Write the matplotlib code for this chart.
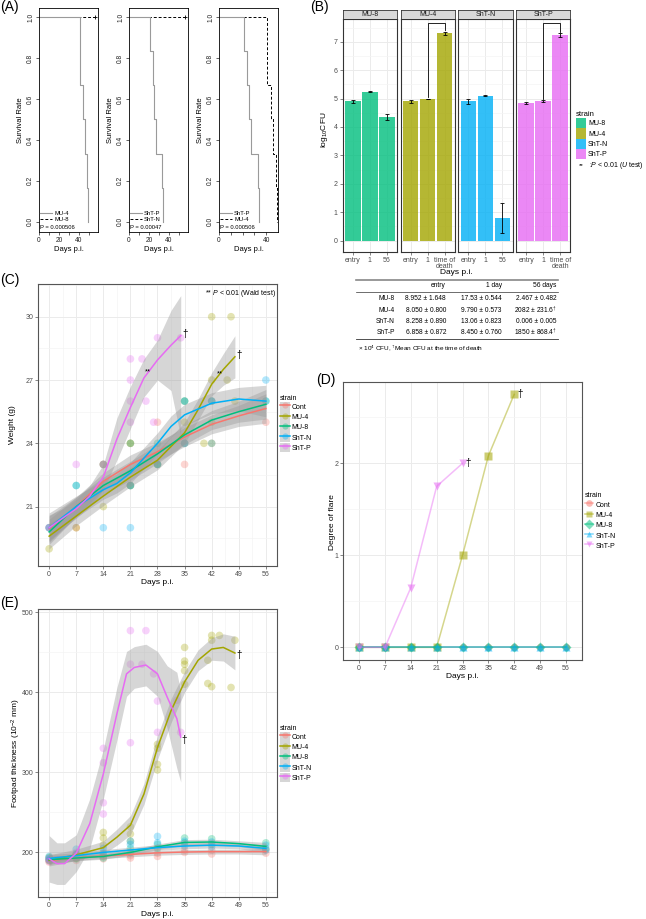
import numpy as np
import matplotlib.pyplot as plt
from matplotlib.lines import Line2D
from matplotlib.patches import Patch

plt.rcParams['font.family'] = ['Liberation Sans', 'DejaVu Sans']
plt.rcParams['mathtext.fontset'] = 'custom'
plt.rcParams['mathtext.rm'] = 'Liberation Sans'
plt.rcParams['mathtext.it'] = 'Liberation Sans:italic'
plt.rcParams['axes.linewidth'] = 0.6

W, H = 646, 919

strains = ['Cont', 'MU-4', 'MU-8', 'ShT-N', 'ShT-P']
colors = ['#F8766D', '#A3A500', '#00BF7D', '#00B0F6', '#E76BF3']

# ---------------- (A) survival curves
a_mu4_t = [0, 41, 44, 46, 48, 49]
a_mu4_s = [1, 0.667, 0.5, 0.333, 0.167, 0]
a_shtp_t = [0, 21, 24, 25, 27, 33, 34]
a_shtp_s = [1, 0.833, 0.667, 0.5, 0.333, 0.167, 0]
a_cens_t = [0, 56]
a_cens_s = [1, 1]
a_pvals = ['0.000506', '0.00047', '0.000506']

# ---------------- (B) CFU bars
b_groups = ['MU-8', 'MU-4', 'ShT-N', 'ShT-P']
b_colors = ['#00BF7D', '#A3A500', '#00B0F6', '#E76BF3']
b_xlab_56 = ['entry', '1', '56']
b_xlab_death = ['entry', '1', 'time of\ndeath']
b_mu8 = [4.90, 5.24, 4.35]
b_mu8_err = [0.05, 0.02, 0.10]
b_mu4 = [4.90, 4.99, 7.30]
b_mu4_err = [0.04, 0.01, 0.06]
b_shtn = [4.90, 5.10, 0.80]
b_shtn_err = [0.08, 0.02, 0.52]
b_shtp = [4.84, 4.92, 7.23]
b_shtp_err = [0.04, 0.04, 0.07]

tbl_head = ['entry', '1 day', '56 days']
tbl_rows = ['MU-8', 'MU-4', 'ShT-N', 'ShT-P']
tbl_entry = ['8.952 ± 1.648', '8.050 ± 0.800', '8.258 ± 0.890', '6.858 ± 0.872']
tbl_day1 = ['17.53 ± 0.544', '9.790 ± 0.573', '13.06 ± 0.823', '8.450 ± 0.760']
tbl_day56 = ['2.467 ± 0.482', '2082 ± 231.6$^{\\dagger}$', '0.006 ± 0.005',
             '1850 ± 868.4$^{\\dagger}$']

# ---------------- (C) weight
c_cont_x = [0, 7, 14, 21, 21, 28, 28, 35, 35, 42, 42, 56]
c_cont_y = [20, 20, 23, 24, 22, 25, 23, 24, 23, 24, 26, 25]
c_mu4_x = [0, 7, 14, 14, 21, 21, 28, 35, 35, 40, 42, 42, 42, 46, 47, 48]
c_mu4_y = [19, 20, 21, 23, 22, 24, 23, 25, 26, 24, 27, 30, 25, 27, 30, 26]
c_mu8_x = [0, 7, 14, 21, 21, 28, 28, 35, 35, 42, 42, 56]
c_mu8_y = [20, 22, 23, 22, 24, 24, 23, 24, 26, 24, 26, 26]
c_shtn_x = [0, 7, 14, 21, 21, 28, 35, 35, 42, 56, 56]
c_shtn_y = [20, 22, 20, 20, 22, 23, 26, 24, 26, 26, 27]
c_shtp_x = [0, 7, 14, 21, 21, 21, 21, 24, 25, 27, 28, 34]
c_shtp_y = [20, 23, 23, 28, 27, 26, 25, 28, 26, 25, 29, 29]

c_fit_x = [0, 7, 14, 21, 28, 35, 42, 49, 56]
c_fit_cont = [19.95, 21.0, 22.2, 23.0, 23.6, 24.3, 24.9, 25.3, 25.65]
c_band_cont = [0.6, 0.45, 0.4, 0.45, 0.45, 0.45, 0.45, 0.5, 0.7]
c_fit_mu8 = [19.8, 21.0, 22.0, 22.7, 23.5, 24.4, 25.1, 25.5, 25.85]
c_band_mu8 = [0.6, 0.45, 0.4, 0.45, 0.45, 0.45, 0.45, 0.5, 0.7]
c_fit_shtn_x = [0, 7, 14, 17.5, 21, 24.5, 28, 31.5, 35, 42, 49, 56]
c_fit_shtn = [20.0, 21.0, 21.8, 22.1, 22.6, 23.3, 24.0, 24.8, 25.35, 25.9, 26.1, 26.0]
c_band_shtn = [0.7, 0.5, 0.45, 0.45, 0.5, 0.5, 0.5, 0.5, 0.5, 0.5, 0.55, 0.75]
c_fit_mu4_x = [0, 7, 14, 21, 28, 35, 38.5, 42, 45, 48]
c_fit_mu4 = [19.6, 20.55, 21.5, 22.4, 23.2, 24.5, 25.6, 26.8, 27.5, 28.1]
c_band_mu4 = [0.6, 0.45, 0.45, 0.45, 0.45, 0.5, 0.5, 0.55, 0.75, 1.0]
c_fit_shtp_x = [0, 3.5, 7, 10.5, 14, 17.5, 21, 24.5, 28, 31.5, 34]
c_fit_shtp = [20.0, 20.45, 20.9, 21.5, 22.4, 24.2, 25.7, 27.1, 27.95, 28.65, 29.1]
c_lo_shtp = [19.4, 19.95, 20.45, 21.0, 21.8, 23.2, 24.7, 26.2, 27.0, 26.5, 24.3]
c_hi_shtp = [20.6, 20.9, 21.35, 22.0, 23.0, 25.2, 26.7, 28.0, 28.9, 30.3, 31.0]

# ---------------- (D) flare
d_days = [0, 7, 14, 21, 28, 35, 42, 49, 56]
d_cont = [0, 0, 0, 0, 0, 0, 0, 0, 0]
d_mu8 = [0, 0, 0, 0, 0, 0, 0, 0, 0]
d_shtn = [0, 0, 0, 0, 0, 0, 0, 0, 0]
d_mu4_days = [0, 7, 14, 21, 28, 35, 42]
d_mu4 = [0, 0, 0, 0, 1.0, 2.08, 2.75]
d_shtp_days = [0, 7, 14, 21, 28]
d_shtp = [0, 0, 0.65, 1.75, 2.0]
d_markers = ['o', 's', 'D', '^', 'v']

# ---------------- (E) footpad
e_cont_x = [0, 0, 7, 7, 14, 14, 21, 21, 28, 28, 35, 35, 42, 42, 56, 56]
e_cont_y = [188, 191, 190, 193, 192, 195, 193, 196, 195, 199, 200, 203, 198, 203, 199, 203]
e_mu8_x = [0, 0, 7, 7, 14, 14, 21, 21, 28, 28, 35, 35, 42, 42, 56, 56]
e_mu8_y = [190, 193, 192, 197, 193, 198, 200, 205, 205, 210, 212, 218, 210, 217, 205, 212]
e_shtn_x = [0, 0, 7, 7, 14, 14, 21, 21, 28, 28, 35, 35, 42, 42, 56, 56]
e_shtn_y = [192, 195, 198, 204, 200, 205, 210, 214, 212, 220, 208, 214, 207, 213, 203, 209]
e_mu4_x = [0, 0, 7, 7, 14, 14, 14, 21, 21, 21, 28, 28, 28, 28, 35, 35, 35, 35, 35,
           41, 41, 42, 42, 42, 44, 47, 48]
e_mu4_y = [190, 194, 193, 197, 209, 218, 225, 214, 223, 232, 303, 310, 330, 335,
           410, 427, 435, 439, 456, 411, 440, 407, 465, 471, 471, 406, 465]
e_shtp_x = [0, 0, 7, 7, 14, 14, 14, 14, 21, 21, 21, 24, 25, 27, 28, 28, 33, 34]
e_shtp_y = [189, 192, 196, 200, 248, 262, 312, 330, 337, 435, 477, 435, 477, 423,
            350, 389, 390, 350]

e_fit_x = [0, 7, 14, 21, 28, 35, 42, 49, 56]
e_fit_cont = [190, 193, 195.5, 197.5, 199.5, 200.5, 201, 201, 201]
e_band_cont = [5, 3, 3, 3, 3, 3, 3, 3, 4]
e_fit_mu8 = [191, 193, 195, 200, 207, 212.5, 213, 211, 207.5]
e_band_mu8 = [5, 3.5, 3.5, 3.5, 3.5, 3.5, 3.5, 3.5, 5]
e_fit_shtn = [192.5, 196, 200, 203, 206, 208, 209, 208, 205]
e_band_shtn = [5, 3.5, 3.5, 3.5, 3.5, 3.5, 3.5, 3.5, 5]
e_fit_mu4_x = [0, 7, 14, 17.5, 21, 24.5, 28, 31.5, 35, 38.5, 42, 45, 48]
e_fit_mu4 = [190, 197, 206, 219, 234, 273, 331, 377, 413, 440, 454, 456, 449]
e_lo_mu4 = [183, 190, 198, 209, 222, 260, 316, 362, 400, 427, 440, 439, 428]
e_hi_mu4 = [197, 204, 214, 229, 246, 286, 346, 392, 426, 453, 468, 473, 470]
e_fit_shtp_x = [0, 2, 4, 7, 10.5, 14, 17.5, 20, 22, 25, 28, 30.5, 33, 34]
e_fit_shtp = [192, 186, 186, 199, 236, 298, 373, 423, 431, 434, 423, 394, 367, 344]
e_lo_shtp = [163, 160, 160, 176, 205, 267, 340, 395, 405, 408, 395, 355, 305, 288]
e_hi_shtp = [221, 212, 212, 222, 267, 329, 406, 451, 457, 460, 451, 433, 425, 400]


fig = plt.figure(figsize=(W / 100, H / 100), dpi=100)
fig.patch.set_facecolor('white')


def px_axes(l, t, r, b):
    return fig.add_axes([l / W, 1 - b / H, (r - l) / W, (b - t) / H])


def ptext(x, y, s, **kw):
    fig.text(x / W, 1 - y / H, s, **kw)


def phline(x1, x2, y, **kw):
    fig.add_artist(Line2D([x1 / W, x2 / W], [1 - y / H, 1 - y / H],
                          transform=fig.transFigure, **kw))


def gg_axes(ax, xmaj, xmin, ymaj, ymin):
    ax.set_xticks(xmaj)
    ax.set_xticks(xmin, minor=True)
    ax.set_yticks(ymaj)
    ax.set_yticks(ymin, minor=True)
    ax.grid(which='major', color='#EBEBEB', lw=0.7)
    ax.grid(which='minor', color='#F4F4F4', lw=0.5)
    ax.set_axisbelow(True)
    for s in ax.spines.values():
        s.set_color('#555555')
        s.set_linewidth(0.8)
    ax.tick_params(which='major', length=2, width=0.5, color='#555555',
                   labelsize=5, labelcolor='#4D4D4D', pad=1.5)
    ax.tick_params(which='minor', length=0)


def strain_legend(handles, top, left, hl=1.4):
    fig.legend(handles, strains, loc='upper left', bbox_to_anchor=(left / W, 1 - top / H),
               frameon=False, title='strain', fontsize=5, title_fontsize=5,
               alignment='left', handlelength=hl, handleheight=1.8, labelspacing=0.05,
               handletextpad=0.3, borderpad=0, borderaxespad=0)


# ================= (A)
a_cfg = [
    (39, 98, 59, (a_mu4_t, a_mu4_s, 'MU-4'), (a_cens_t, a_cens_s, 'MU-8'), True, [0, 20, 40]),
    (129, 188, 59, (a_shtp_t, a_shtp_s, 'ShT-P'), (a_cens_t, a_cens_s, 'ShT-N'), True, [0, 20, 40]),
    (219, 278, 50, (a_shtp_t, a_shtp_s, 'ShT-P'), (a_mu4_t, a_mu4_s, 'MU-4'), False, [0, 40]),
]
for (l, r, xmax, solid, dashed, cens, shown), pv in zip(a_cfg, a_pvals):
    ax = px_axes(l, 8, r, 232)
    ld, = ax.step(dashed[0], dashed[1], where='post', color='black', lw=0.7,
                  dashes=(3, 2))
    ls, = ax.step(solid[0], solid[1], where='post', color='#9A9A9A', lw=0.8)
    if cens:
        ax.plot(dashed[0][-1], dashed[1][-1], marker='+', color='black', ms=3.5, mew=0.6)
    ax.set_xlim(0, xmax)
    ax.set_ylim(-0.05, 1.045)
    xt = list(range(0, xmax, 10))
    ax.set_xticks(xt)
    ax.set_xticklabels([str(t) if t in shown else '' for t in xt])
    ax.set_yticks([0, 0.2, 0.4, 0.6, 0.8, 1.0])
    ax.set_yticklabels(['0.0', '0.2', '0.4', '0.6', '0.8', '1.0'], rotation=90,
                       va='center')
    ax.tick_params(length=2, width=0.5, labelsize=4.8, pad=1.5, colors='#222222')
    for s in ax.spines.values():
        s.set_linewidth(0.6)
    ax.legend([ls, ld], [solid[2], dashed[2]], loc='lower left',
              bbox_to_anchor=(0.0, 0.04), frameon=False, fontsize=4.2,
              handlelength=2.2, handletextpad=0.3, labelspacing=0.2,
              borderpad=0, borderaxespad=0.1)
    ax.text(0.02, 0.008, 'P = ' + pv, transform=ax.transAxes, fontsize=4.2,
            ha='left', va='bottom')
    ptext((l + r) / 2, 250, 'Days p.i.', fontsize=5.5, ha='center', va='center')
    ptext(l - 18.5, 120, 'Survival Rate', fontsize=5.5, rotation=90,
          ha='center', va='center')

# ================= (B)
b_vals = [b_mu8, b_mu4, b_shtn, b_shtp]
b_errs = [b_mu8_err, b_mu4_err, b_shtn_err, b_shtp_err]
b_xlabs = [b_xlab_56, b_xlab_death, b_xlab_56, b_xlab_death]
b_sig = [False, True, False, True]
b_lefts = [342.7, 400.5, 458.3, 516.1]
fw = 54.3
for i, g in enumerate(b_groups):
    l = b_lefts[i]
    ax = px_axes(l, 19, l + fw, 251.7)
    pos = np.arange(1, 4)
    ax.bar(pos, b_vals[i], width=0.92, color=b_colors[i], alpha=0.8, edgecolor='none')
    ax.errorbar(pos, b_vals[i], yerr=b_errs[i], fmt='none', ecolor='black',
                elinewidth=0.6, capsize=1.6, capthick=0.6)
    if b_sig[i]:
        top = 7.67
        y2 = b_vals[i][1] + b_errs[i][1] + 0.04
        y3 = b_vals[i][2] + b_errs[i][2] + 0.04
        ax.plot([2, 2, 3, 3], [y2, top, top, y3], color='black', lw=0.6)
        ax.text(2.5, top + 0.02, '**', fontsize=4.5, ha='center', va='bottom')
    ax.set_xlim(0.4, 3.6)
    ax.set_ylim(-0.39, 7.8)
    gg_axes(ax, pos, [], list(range(0, 8)), list(np.arange(0.5, 8, 1.0)))
    for s in ax.spines.values():
        s.set_color('#333333')
    ax.set_xticklabels(b_xlabs[i], linespacing=0.85)
    if i > 0:
        ax.tick_params(axis='y', length=0, labelleft=False)
    st = px_axes(l, 10, l + fw, 19)
    st.set_facecolor('#D9D9D9')
    st.set_xticks([])
    st.set_yticks([])
    for s in st.spines.values():
        s.set_color('#333333')
        s.set_linewidth(0.6)
    st.text(0.5, 0.45, g, transform=st.transAxes, fontsize=5, ha='center',
            va='center', color='#1A1A1A')

ptext(325, 130, 'log$_{10}$CFU', fontsize=6, rotation=90, ha='center', va='center')
ptext(456.5, 273, 'Days p.i.', fontsize=6, ha='center', va='center')
b_handles = [Patch(facecolor=c, edgecolor='none', alpha=0.8) for c in b_colors]
fig.legend(b_handles, b_groups, loc='upper left', bbox_to_anchor=(576 / W, 1 - 111 / H),
           frameon=False, title='strain', fontsize=5, title_fontsize=5.5,
           alignment='left', handlelength=1.45, handleheight=1.9, labelspacing=0.0,
           handletextpad=0.3, borderpad=0, borderaxespad=0)
ptext(578.5, 166, '**', fontsize=4.5, ha='left', va='center')
ptext(589, 165.7, ':$\\it{P}$ < 0.01 ($\\it{U}$ test)', fontsize=5, ha='left', va='center')

# table
phline(355.7, 557.7, 280, color='#888888', lw=1.2)
phline(355.7, 557.7, 292, color='#333333', lw=0.5)
phline(355.7, 557.7, 339.3, color='#333333', lw=0.6)
col_right = [446, 501.7, 556.7]
for x, h in zip(col_right, tbl_head):
    ptext(x, 285.5, h, fontsize=4.8, ha='right', va='center')
for j, name in enumerate(tbl_rows):
    y = 298.7 + j * 11.3
    ptext(395, y, name, fontsize=4.8, ha='right', va='center')
    for x, col in zip(col_right, [tbl_entry, tbl_day1, tbl_day56]):
        ptext(x, y, col[j], fontsize=4.8, ha='right', va='center')
ptext(358, 347.7, '× 10$^{4}$ CFU, $^{\\dagger}$Mean CFU at the time of death',
      fontsize=4.6, ha='left', va='center')

# ================= (C)
ax = px_axes(38.3, 284, 276.7, 565.7)
c_pts = [(c_cont_x, c_cont_y), (c_mu4_x, c_mu4_y), (c_mu8_x, c_mu8_y),
         (c_shtn_x, c_shtn_y), (c_shtp_x, c_shtp_y)]
for (x, y), c in zip(c_pts, colors):
    ax.scatter(x, y, s=30, color=c, alpha=0.3, edgecolors='none')
c_fits = [
    (c_fit_x, c_fit_cont, np.subtract(c_fit_cont, c_band_cont), np.add(c_fit_cont, c_band_cont)),
    (c_fit_mu4_x, c_fit_mu4, np.subtract(c_fit_mu4, c_band_mu4), np.add(c_fit_mu4, c_band_mu4)),
    (c_fit_x, c_fit_mu8, np.subtract(c_fit_mu8, c_band_mu8), np.add(c_fit_mu8, c_band_mu8)),
    (c_fit_shtn_x, c_fit_shtn, np.subtract(c_fit_shtn, c_band_shtn), np.add(c_fit_shtn, c_band_shtn)),
    (c_fit_shtp_x, c_fit_shtp, c_lo_shtp, c_hi_shtp),
]
for (x, f, lo, hi), c in zip(c_fits, colors):
    ax.fill_between(x, lo, hi, color='#999999', alpha=0.4, lw=0)
    ax.plot(x, f, color=c, lw=1.1)
ax.text(c_fit_shtp_x[-1] + 0.3, c_fit_shtp[-1] + 0.1, '†', fontsize=7, ha='left', va='center')
ax.text(c_fit_mu4_x[-1] + 0.3, c_fit_mu4[-1] + 0.1, '†', fontsize=7, ha='left', va='center')
ax.text(25.5, 27.4, '**', fontsize=5.5, ha='center', va='center')
ax.text(44, 27.3, '**', fontsize=5.5, ha='center', va='center')
ax.text(0.995, 0.985, '** $\\it{P}$ < 0.01 (Wald test)', transform=ax.transAxes,
        fontsize=5, ha='right', va='top')
ax.set_xlim(-2.8, 58.8)
ax.set_ylim(18.2, 31.55)
gg_axes(ax, list(range(0, 57, 7)), list(np.arange(3.5, 57, 7)),
        [21, 24, 27, 30], [19.5, 22.5, 25.5, 28.5, 31.5])
ptext(13, 425, 'Weight (g)', fontsize=6, rotation=90, ha='center', va='center')
ptext(157.5, 582, 'Days p.i.', fontsize=6, ha='center', va='center')

gg_handles = [(Patch(facecolor='#D6D6D6', edgecolor='none'), Line2D([], [], color=c, lw=1.1),
               Line2D([], [], ls='none', marker='o', ms=4.5, mfc=c, mec='none', alpha=0.35))
              for c in colors]
strain_legend(gg_handles, 394.5, 280)

# ================= (D)
ax = px_axes(343.3, 381.7, 581.7, 660)
d_series = [(d_days, d_cont), (d_mu4_days, d_mu4), (d_days, d_mu8),
            (d_days, d_shtn), (d_shtp_days, d_shtp)]
for (x, y), c, m in zip(d_series, colors, d_markers):
    ax.plot(x, y, color=c, lw=1.1, alpha=0.45)
    ax.plot(x, y, ls='none', marker=m, ms=5.2, color=c, mec='none', alpha=0.55)
ax.text(d_mu4_days[-1] + 0.8, d_mu4[-1], '†', fontsize=7, ha='left', va='center')
ax.text(d_shtp_days[-1] + 0.8, d_shtp[-1], '†', fontsize=7, ha='left', va='center')
ax.set_xlim(-4.3, 60.3)
ax.set_ylim(-0.1375, 2.8875)
gg_axes(ax, list(range(0, 57, 7)), [], [0, 1, 2], [0.5, 1.5, 2.5])
ptext(332, 521.7, 'Degree of flare', fontsize=6, rotation=90, ha='center', va='center')
ptext(462.5, 676.5, 'Days p.i.', fontsize=6, ha='center', va='center')
d_handles = [Line2D([], [], color=c, lw=1.1, marker=m, ms=4.8, mec='none', alpha=0.5)
             for c, m in zip(colors, d_markers)]
strain_legend(d_handles, 492.5, 585, hl=1.2)

# ================= (E)
ax = px_axes(38.3, 609, 276.7, 896.7)
e_pts = [(e_cont_x, e_cont_y), (e_mu4_x, e_mu4_y), (e_mu8_x, e_mu8_y),
         (e_shtn_x, e_shtn_y), (e_shtp_x, e_shtp_y)]
for (x, y), c in zip(e_pts, colors):
    ax.scatter(x, y, s=30, color=c, alpha=0.3, edgecolors='none')
e_fits = [
    (e_fit_x, e_fit_cont, np.subtract(e_fit_cont, e_band_cont), np.add(e_fit_cont, e_band_cont)),
    (e_fit_mu4_x, e_fit_mu4, e_lo_mu4, e_hi_mu4),
    (e_fit_x, e_fit_mu8, np.subtract(e_fit_mu8, e_band_mu8), np.add(e_fit_mu8, e_band_mu8)),
    (e_fit_x, e_fit_shtn, np.subtract(e_fit_shtn, e_band_shtn), np.add(e_fit_shtn, e_band_shtn)),
    (e_fit_shtp_x, e_fit_shtp, e_lo_shtp, e_hi_shtp),
]
for (x, f, lo, hi), c in zip(e_fits, colors):
    ax.fill_between(x, lo, hi, color='#999999', alpha=0.4, lw=0)
    ax.plot(x, f, color=c, lw=1.1)
ax.text(e_fit_mu4_x[-1] + 0.4, e_fit_mu4[-1] - 3, '†', fontsize=7, ha='left', va='center')
ax.text(e_fit_shtp_x[-1] + 0.2, e_fit_shtp[-1] - 4, '†', fontsize=7, ha='left', va='center')
ax.set_xlim(-2.8, 58.8)
ax.set_ylim(144.7, 504)
gg_axes(ax, list(range(0, 57, 7)), list(np.arange(3.5, 57, 7)),
        [200, 300, 400, 500], [150, 250, 350, 450])
ptext(16, 753, 'Footpad thickness (10$^{-2}$ mm)', fontsize=6, rotation=90,
      ha='center', va='center')
ptext(157.5, 914, 'Days p.i.', fontsize=6, ha='center', va='center')
strain_legend(gg_handles, 724.5, 280)

# panel letters
for lab, x, y in [('(A)', 0, 7), ('(B)', 310, 7), ('(C)', 0, 280), ('(D)', 316, 380),
                  ('(E)', 0, 603)]:
    ptext(x, y, lab, fontsize=10, ha='left', va='center')

fig.savefig('out.png', dpi=100)
